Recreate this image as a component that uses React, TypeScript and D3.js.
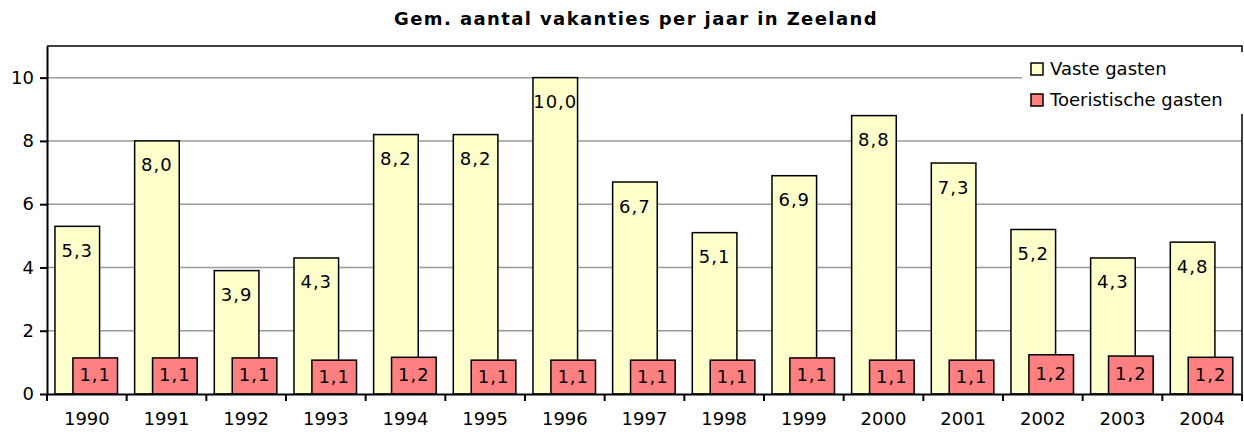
import React, { useEffect, useRef } from 'react';
import * as d3 from 'd3';

const years = ['1990', '1991', '1992', '1993', '1994', '1995', '1996', '1997', '1998', '1999', '2000', '2001', '2002', '2003', '2004'];
const vasteGasten = [5.3, 8.0, 3.9, 4.3, 8.2, 8.2, 10.0, 6.7, 5.1, 6.9, 8.8, 7.3, 5.2, 4.3, 4.8];
const toeristischeGasten = [1.14, 1.14, 1.14, 1.07, 1.16, 1.07, 1.07, 1.07, 1.07, 1.14, 1.07, 1.07, 1.24, 1.2, 1.16];
const yTicks = [0, 2, 4, 6, 8, 10];
const seriesNames = ['Vaste gasten', 'Toeristische gasten'];
const seriesColors = ['#FFFFCC', '#FF8080'];

const FONT = "'DejaVu Sans', Verdana, sans-serif";

const App = () => {
  const ref = useRef<SVGSVGElement>(null);

  useEffect(() => {
    const width = 1244, height = 436;
    const margin = { top: 46, right: 2, bottom: 42, left: 47 };
    const w = width - margin.left - margin.right;
    const h = height - margin.top - margin.bottom;

    const svg = d3.select(ref.current);
    svg.selectAll('*').remove();

    svg.append('text')
      .attr('x', 636).attr('y', 25)
      .attr('text-anchor', 'middle')
      .attr('font-family', FONT).attr('font-weight', 'bold').attr('font-size', 18)
      .attr('letter-spacing', 1.4)
      .text('Gem. aantal vakanties per jaar in Zeeland');

    const g = svg.append('g').attr('transform', `translate(${margin.left},${margin.top})`);

    const x = d3.scaleBand().domain(years).range([0, w]).padding(0);
    const y = d3.scaleLinear().domain([0, 11]).range([h, 0]);
    const bw = x.bandwidth();

    // gridlines
    g.selectAll('line.grid')
      .data(yTicks.filter(t => t > 0))
      .enter().append('line')
      .attr('x1', 0).attr('x2', w)
      .attr('y1', d => y(d)).attr('y2', d => y(d))
      .attr('stroke', '#9a9a9a').attr('stroke-width', 1.5);

    // plot area border (top/right)
    g.append('path')
      .attr('d', `M0,0H${w}V${h}`)
      .attr('fill', 'none').attr('stroke', '#000').attr('stroke-width', 1.5);

    const vaste = years.map((yr, i) => ({ yr, v: vasteGasten[i] }));
    const toer = years.map((yr, i) => ({ yr, v: toeristischeGasten[i] }));

    g.selectAll('rect.vaste')
      .data(vaste).enter().append('rect')
      .attr('x', d => x(d.yr)! + bw * 0.1)
      .attr('width', bw * 0.56)
      .attr('y', d => y(d.v))
      .attr('height', d => h - y(d.v))
      .attr('fill', seriesColors[0]).attr('stroke', '#000').attr('stroke-width', 1.5);

    g.selectAll('rect.toer')
      .data(toer).enter().append('rect')
      .attr('x', d => x(d.yr)! + bw * 0.325)
      .attr('width', bw * 0.56)
      .attr('y', d => y(d.v))
      .attr('height', d => h - y(d.v))
      .attr('fill', seriesColors[1]).attr('stroke', '#000').attr('stroke-width', 1.5);

    const fmt = (v: number) => v.toFixed(1).replace('.', ',');

    g.selectAll('text.vl')
      .data(vaste).enter().append('text')
      .attr('x', d => x(d.yr)! + bw * 0.38)
      .attr('y', d => y(d.v) + 24)
      .attr('dy', '0.36em')
      .attr('text-anchor', 'middle')
      .attr('font-family', FONT).attr('font-size', 18).attr('letter-spacing', 1)
      .text(d => fmt(d.v));

    g.selectAll('text.tl')
      .data(toer).enter().append('text')
      .attr('x', d => x(d.yr)! + bw * 0.605)
      .attr('y', d => (y(d.v) + h) / 2 - 1)
      .attr('dy', '0.36em')
      .attr('text-anchor', 'middle')
      .attr('font-family', FONT).attr('font-size', 18).attr('letter-spacing', 1)
      .text(d => fmt(d.v));

    // y axis
    const yAxis = g.append('g')
      .call(d3.axisLeft(y).tickValues(yTicks).tickSize(7).tickSizeOuter(0).tickPadding(6));
    yAxis.select('.domain').attr('stroke-width', 2);
    yAxis.selectAll('.tick line').attr('stroke-width', 2);
    yAxis.selectAll('text').attr('font-family', FONT).attr('font-size', 18).attr('fill', '#000');

    // x axis
    const xAxis = g.append('g')
      .attr('transform', `translate(0,${h})`)
      .call(d3.axisBottom(x).tickSize(0).tickPadding(18));
    xAxis.select('.domain').attr('stroke-width', 2);
    xAxis.selectAll('text').attr('font-family', FONT).attr('font-size', 18).attr('fill', '#000');
    g.append('g').selectAll('line')
      .data(d3.range(years.length + 1))
      .enter().append('line')
      .attr('x1', i => i * bw).attr('x2', i => i * bw)
      .attr('y1', h).attr('y2', h + 7)
      .attr('stroke', '#000').attr('stroke-width', 2);

    // legend
    const lg = svg.append('g').attr('transform', 'translate(1022,52)');
    lg.append('rect').attr('width', 222).attr('height', 62).attr('fill', '#fff');
    seriesNames.forEach((name, i) => {
      const row = lg.append('g').attr('transform', `translate(9,${17 + i * 31})`);
      row.append('rect').attr('x', 0).attr('y', -6).attr('width', 12).attr('height', 12)
        .attr('fill', seriesColors[i]).attr('stroke', '#000').attr('stroke-width', 1.5);
      row.append('text').attr('x', 19).attr('dy', '0.36em')
        .attr('font-family', FONT).attr('font-size', 18)
        .text(name);
    });
  }, []);

  return (
    <div style={{ position: 'absolute', left: 0, top: 0 }}>
      <svg ref={ref} width={1244} height={436} style={{ display: 'block', background: '#fff' }} />
    </div>
  );
};

export default App;
